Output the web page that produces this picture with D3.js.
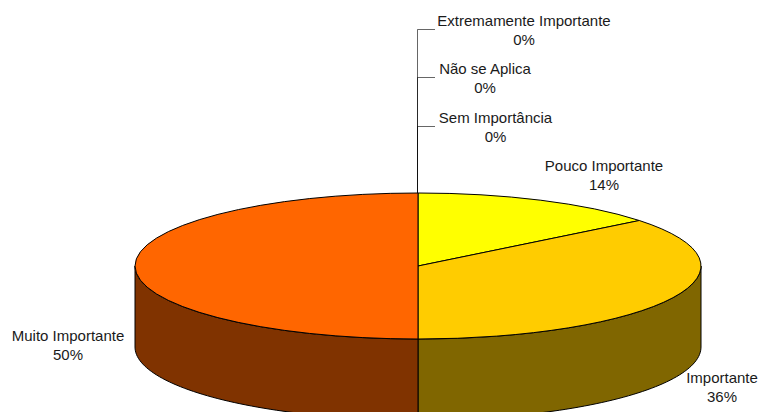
<!DOCTYPE html>
<html><head><meta charset="utf-8">
<script src="https://cdnjs.cloudflare.com/ajax/libs/d3/7.8.5/d3.min.js"></script>
<style>html,body{margin:0;padding:0;background:#fff;overflow:hidden}svg{display:block}text{font-family:"Liberation Sans",Arial,sans-serif;font-size:15px;fill:#1a1a1a}</style>
</head><body><svg id="c" width="760" height="412"></svg>
<script>
const categories=["Pouco Importante","Importante","Muito Importante","Sem Importância","Não se Aplica","Extremamente Importante"];
const values=[14.29,35.71,50,0,0,0];
const topColors=["#FFFF00","#FFCC00","#FF6600","#FF9900","#CCCC00","#999900"];
const sideColors=["#808000","#806600","#803300","#804C00","#666600","#4C4C00"];
const labelX=[604,722,68,495.5,485,524];
const labelY=[170.5,382.5,340.5,122.5,73.5,25.5];

const svg=d3.select("#c");
const cx=418,cy=266,rx=283,ry=73,depth=81;
const pie=d3.pie().sort(null).value(d=>d)(values);
const px=a=>cx+rx*Math.sin(a), py=a=>cy-ry*Math.cos(a);
const line=d3.line();
const pct=d3.format(".0f");

// side walls (front half only)
pie.forEach((p,i)=>{
  const a0=Math.max(p.startAngle,Math.PI/2), a1=Math.min(p.endAngle,Math.PI*1.5);
  if(a1<=a0) return;
  const n=60, s=d3.scaleLinear().domain([0,n]).range([a0,a1]);
  const upper=d3.range(n+1).map(k=>[px(s(k)),py(s(k))]);
  const lower=upper.slice().reverse().map(q=>[q[0],q[1]+depth]);
  svg.append("path").attr("d",line(upper.concat(lower))+"Z")
    .attr("fill",sideColors[i]).attr("stroke","#000").attr("stroke-width",1);
});

// top faces
const arc=d3.arc().innerRadius(0).outerRadius(rx);
pie.forEach((p,i)=>{
  if(p.endAngle-p.startAngle<=0) return;
  svg.append("path").attr("d",arc(p))
    .attr("transform",`translate(${cx},${cy}) scale(1,${ry/rx})`)
    .attr("fill",topColors[i]).attr("stroke","#000").attr("stroke-width",1)
    .attr("vector-effect","non-scaling-stroke");
});

// leader lines for zero slices
const leadX=417.5, leadEnd=435;
[3,4,5].forEach(i=>{
  const y=Math.round(labelY[i]+3.5)+0.5;
  svg.append("path").attr("d",line([[leadX,193],[leadX,y],[leadEnd,y]]))
    .attr("fill","none").attr("stroke","#000").attr("stroke-width",1).attr("stroke-opacity",0.6);
});

// labels
categories.forEach((c,i)=>{
  const t=svg.append("text").attr("text-anchor","middle").attr("x",labelX[i]).attr("y",labelY[i]);
  t.append("tspan").attr("x",labelX[i]).text(c);
  t.append("tspan").attr("x",labelX[i]).attr("dy",19.5).text(pct(values[i])+"%");
});
</script></body></html>
